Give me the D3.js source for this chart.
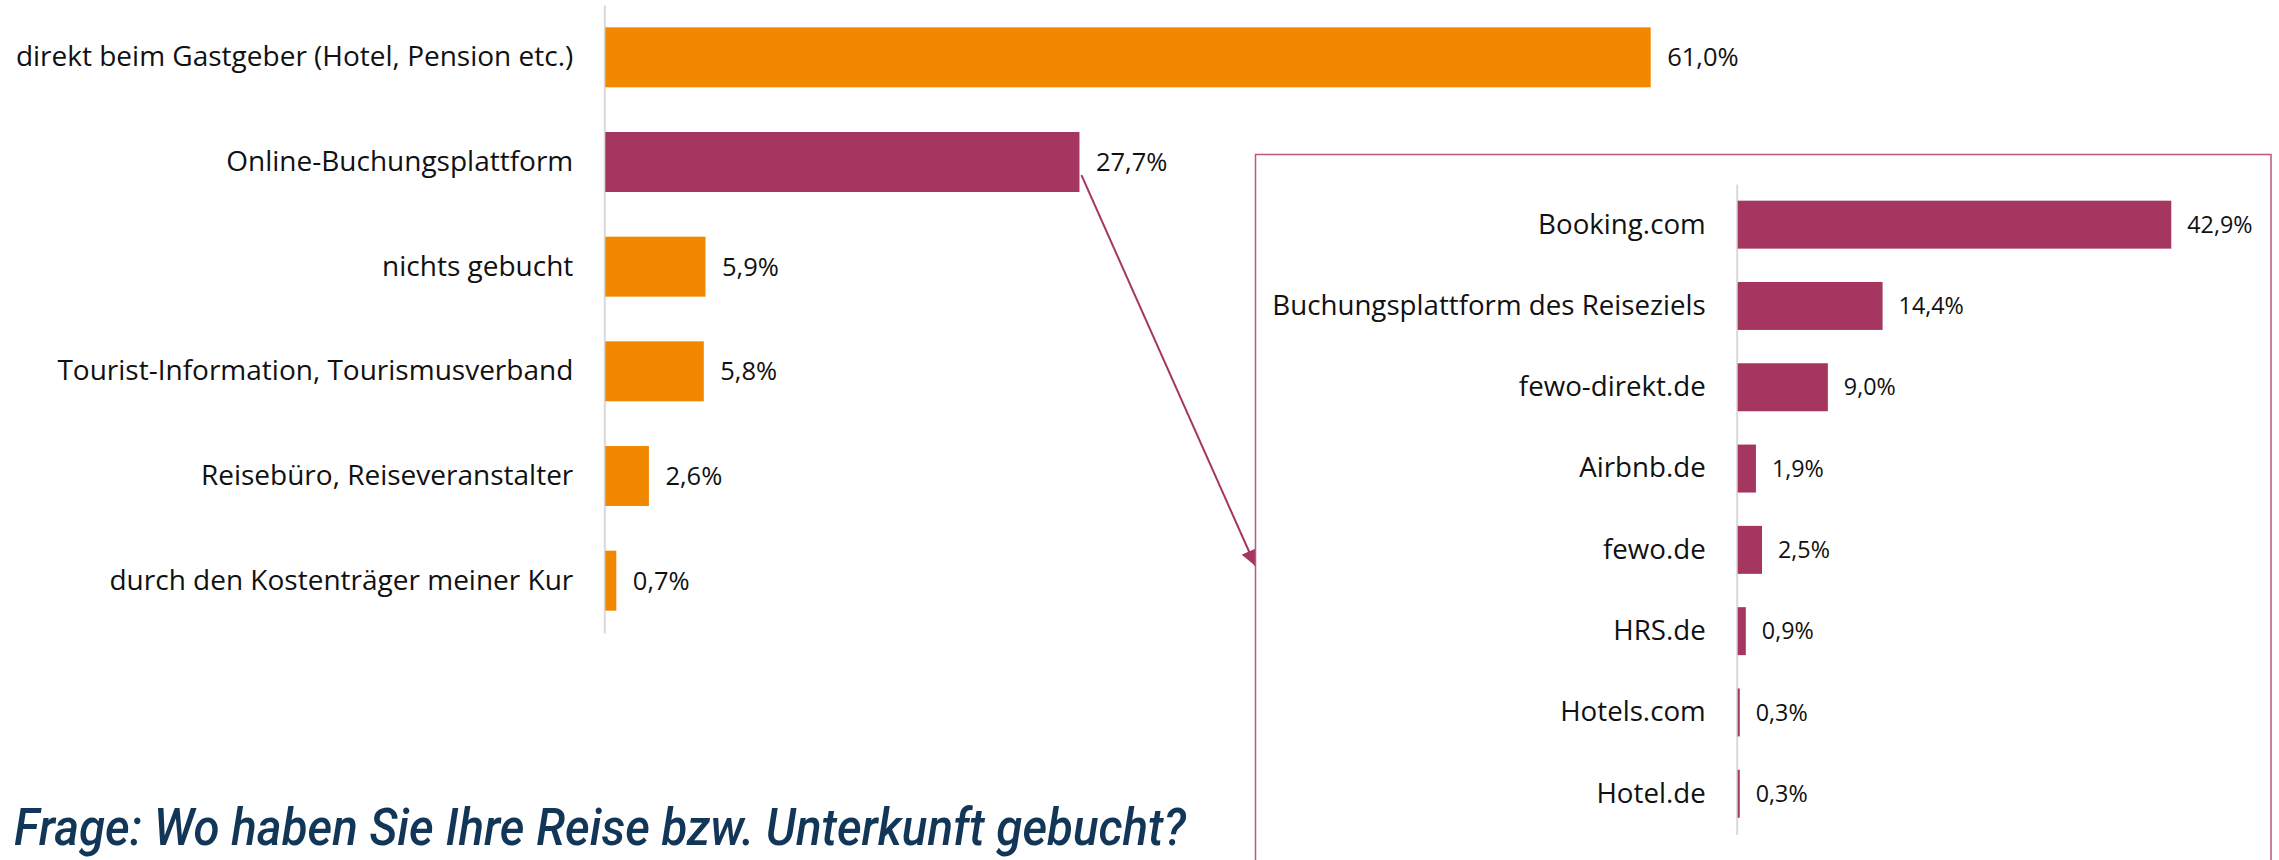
<!DOCTYPE html>
<html>
<head>
<meta charset="utf-8">
<script src="https://cdn.jsdelivr.net/npm/d3@7"></script>
<style>
  html, body { margin: 0; padding: 0; background: #fff; }
  svg { display: block; }
</style>
</head>
<body>
<script>
const W = 2279;
const H = 860;

// main chart
const mainCategories = [
    "direkt beim Gastgeber (Hotel, Pension etc.)",
    "Online-Buchungsplattform",
    "nichts gebucht",
    "Tourist-Information, Tourismusverband",
    "Reisebüro, Reiseveranstalter",
    "durch den Kostenträger meiner Kur"
];
const mainValues = [61.0, 27.7, 5.9, 5.8, 2.6, 0.7];
const highlightCategory = "Online-Buchungsplattform";

// breakdown of the online platforms
const insetCategories = [
    "Booking.com",
    "Buchungsplattform des Reiseziels",
    "fewo-direkt.de",
    "Airbnb.de",
    "fewo.de",
    "HRS.de",
    "Hotels.com",
    "Hotel.de"
];
const insetValues = [42.9, 14.4, 9.0, 1.9, 2.5, 0.9, 0.3, 0.3];

const titleText = "Frage: Wo haben Sie Ihre Reise bzw. Unterkunft gebucht?";

const ORANGE = "#f18800";
const PURPLE = "#a5365f";
const AXIS_GREY = "#d9d9d9";
const LABEL_FONT = "'Open Sans', 'Noto Sans', sans-serif";

const fmt = v => d3.format(".1f")(v).replace(".", ",") + "%";

const svg = d3.select("body")
    .append("svg")
    .attr("width", W)
    .attr("height", H);

svg.append("defs")
    .append("marker")
    .attr("id", "arrowhead")
    .attr("viewBox", "0 -5 10 10")
    .attr("markerUnits", "userSpaceOnUse")
    .attr("markerWidth", 16)
    .attr("markerHeight", 16)
    .attr("refX", 10)
    .attr("refY", 0)
    .attr("orient", "auto")
    .append("path")
    .attr("d", "M0,-5L10,0L0,5Z")
    .attr("fill", PURPLE);

// ---- main chart ----
const xMain = d3.scaleLinear()
    .domain([0, 70])
    .range([604.3, 604.3 + 70 * 17.154]);

const yMain = d3.scaleBand()
    .domain(mainCategories)
    .range([5, 633])
    .paddingInner(0.427)
    .paddingOuter(0.2135);

const mainData = mainCategories.map((c, i) => ({ cat: c, value: mainValues[i] }));

const mainAxis = svg.append("g")
    .attr("transform", `translate(${xMain(0)},0)`)
    .call(d3.axisLeft(yMain).tickSize(0).tickSizeOuter(0).tickPadding(31));
mainAxis.select(".domain").attr("stroke", AXIS_GREY).attr("stroke-width", 2);
mainAxis.selectAll(".tick text")
    .attr("fill", "#111")
    .style("font-family", LABEL_FONT)
    .style("font-size", "28px");

const hl = mainData.find(d => d.cat === highlightCategory);

// inset frame
const box = { x: 1255.5, y: 154.5, right: 2271, bottom: 900 };

// arrow from the purple bar to the frame
svg.append("line")
    .attr("x1", xMain(hl.value) + 2)
    .attr("y1", yMain(hl.cat) + yMain.bandwidth() * 0.72)
    .attr("x2", box.x)
    .attr("y2", 566)
    .attr("stroke", PURPLE)
    .attr("stroke-width", 2)
    .attr("marker-end", "url(#arrowhead)");

svg.append("g")
    .selectAll("rect")
    .data(mainData)
    .join("rect")
    .attr("x", xMain(0) + 1)
    .attr("y", d => yMain(d.cat))
    .attr("width", d => xMain(d.value) - xMain(0) - 1)
    .attr("height", yMain.bandwidth())
    .attr("fill", d => d.cat === highlightCategory ? PURPLE : ORANGE);

svg.append("g")
    .selectAll("text")
    .data(mainData)
    .join("text")
    .attr("x", d => xMain(d.value) + 16.5)
    .attr("y", d => yMain(d.cat) + yMain.bandwidth() / 2)
    .attr("dy", "0.35em")
    .attr("fill", "#111")
    .style("font-family", LABEL_FONT)
    .style("font-size", "25.5px")
    .text(d => fmt(d.value));

svg.append("rect")
    .attr("x", box.x)
    .attr("y", box.y)
    .attr("width", box.right - box.x)
    .attr("height", box.bottom - box.y)
    .attr("fill", "#fff")
    .attr("stroke", "#c0567f")
    .attr("stroke-width", 1.5);

// ---- inset chart ----
const xIn = d3.scaleLinear()
    .domain([0, 50])
    .range([1736.7, 1736.7 + 50 * 10.13]);

const yIn = d3.scaleBand()
    .domain(insetCategories)
    .range([184, 834.4])
    .paddingInner(0.41)
    .paddingOuter(0.205);

const insetData = insetCategories.map((c, i) => ({ cat: c, value: insetValues[i] }));

const inAxis = svg.append("g")
    .attr("transform", `translate(${xIn(0)},0)`)
    .call(d3.axisLeft(yIn).tickSize(0).tickSizeOuter(0).tickPadding(31));
inAxis.select(".domain").attr("stroke", AXIS_GREY).attr("stroke-width", 2);
inAxis.selectAll(".tick text")
    .attr("fill", "#111")
    .style("font-family", LABEL_FONT)
    .style("font-size", "27.7px");

svg.append("g")
    .selectAll("rect")
    .data(insetData)
    .join("rect")
    .attr("x", xIn(0) + 1)
    .attr("y", d => yIn(d.cat))
    .attr("width", d => Math.max(xIn(d.value) - xIn(0) - 1, 2))
    .attr("height", yIn.bandwidth())
    .attr("fill", PURPLE);

svg.append("g")
    .selectAll("text")
    .data(insetData)
    .join("text")
    .attr("x", d => xIn(d.value) + 16)
    .attr("y", d => yIn(d.cat) + yIn.bandwidth() / 2)
    .attr("dy", "0.35em")
    .attr("fill", "#111")
    .style("font-family", LABEL_FONT)
    .style("font-size", "23.3px")
    .text(d => fmt(d.value));

// ---- question, squeezed to look condensed ----
const title = svg.append("text")
    .attr("x", 0)
    .attr("y", 0)
    .attr("fill", "#123657")
    .style("font-family", "Roboto, sans-serif")
    .style("font-style", "italic")
    .style("font-weight", 500)
    .style("font-size", "52px")
    .text(titleText);
const tw = title.node().getComputedTextLength();
const squeeze = 1172 / tw;
title.attr("transform", `translate(14,845) scale(${squeeze},1)`);
</script>
</body>
</html>
